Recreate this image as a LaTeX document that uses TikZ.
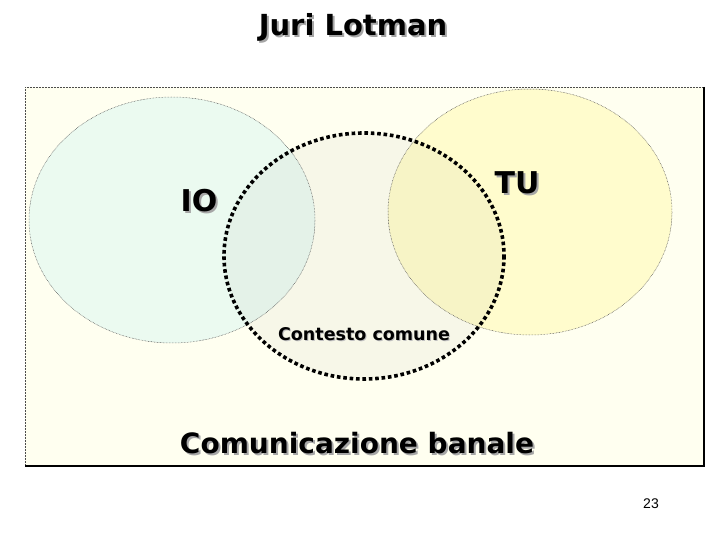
\documentclass[tikz,border=0pt]{standalone}
\usepackage{fontspec}
\setmainfont{DejaVu Sans}
\newfontfamily\arialf{Liberation Sans}
\newcommand{\shtxt}[1]{\makebox[0pt][l]{\hspace{2pt}\raisebox{-2pt}{\textcolor{black!35}{#1}}}#1}
\newcommand{\shtxtsm}[1]{\makebox[0pt][l]{\hspace{1pt}\raisebox{-1pt}{\textcolor{black!25}{#1}}}#1}
\begin{document}
\begin{tikzpicture}[x=1pt,y=-1pt,
  thinbd/.style={draw=black!70,line width=0.5pt,dash pattern=on 0.6pt off 0.9pt},
  bigtxt/.style={font=\fontsize{28}{32}\selectfont\bfseries,inner sep=0pt},
  ioTxt/.style={font=\fontsize{30}{33}\selectfont\bfseries,inner sep=0pt}]
\useasboundingbox (0,0) rectangle (720,540);
\fill[white] (0,0) rectangle (720,540);
% frame
\fill[fill={rgb,255:red,255;green,255;blue,240}] (25,87) rectangle (704,466);
\draw[thinbd] (25,466) -- (25,87) -- (704,87);
\draw[line width=1.3pt] (704,87) -- (704,466) -- (25,466);
% ellipses
\fill[fill={rgb,255:red,235;green,250;blue,240}] (172,220) ellipse [x radius=143, y radius=123];
\fill[fill={rgb,255:red,255;green,252;blue,205}] (530,212) ellipse [x radius=142, y radius=123];
\fill[black!80!yellow,opacity=0.045] (364,256) ellipse [x radius=140, y radius=123];
\draw[thinbd] (172,220) ellipse [x radius=143, y radius=123];
\draw[thinbd] (530,212) ellipse [x radius=142, y radius=123];
\draw[line width=3.6pt,dash pattern=on 3.6pt off 2.8pt] (364,256) ellipse [x radius=140, y radius=123];
% texts
\node (title) [font=\fontsize{29}{32}\selectfont\bfseries,inner sep=0pt] at (353,28) {\shtxt{Juri Lotman}};
\node (io) [ioTxt] at (199,202) {\shtxt{IO}};
\node (tu) [ioTxt] at (517,184) {\shtxt{TU}};
\node (ctx) [font=\fontsize{17.5}{20}\selectfont\bfseries,inner sep=0pt] at (364,335) {\shtxtsm{Contesto comune}};
\node (cb) [bigtxt] at (357,444) {\shtxt{Comunicazione banale}};
\node (num) [font=\fontsize{14}{16}\selectfont\arialf,inner sep=0pt] at (651,504) {23};
\end{tikzpicture}
\end{document}
